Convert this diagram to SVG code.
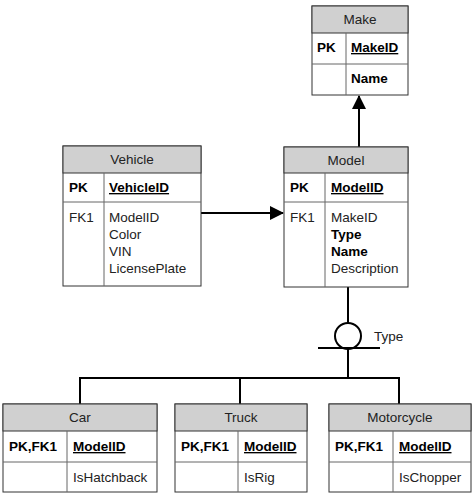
<svg xmlns="http://www.w3.org/2000/svg" width="474" height="495" viewBox="0 0 474 495">
<style>
text{font-family:"Liberation Sans",Arial,sans-serif;font-size:13.5px;fill:#222}
.b{font-weight:bold;fill:#000}
.u{text-decoration:underline}
.h{fill:#d0d0d0;stroke:#333;stroke-width:1}
.bx{fill:#fff;stroke:#333;stroke-width:1}
.ln{stroke:#666;stroke-width:1;fill:none}
.c{stroke:#000;stroke-width:2;fill:none}
</style>
<defs><marker id="m" markerWidth="14" markerHeight="14" refX="13" refY="7" orient="auto" markerUnits="userSpaceOnUse"><path d="M0,0L14,7L0,14Z" fill="#000"/></marker></defs>
<rect width="474" height="495" fill="#fff"/>
<g id="connectors">
<line class="c" x1="359" y1="147" x2="359" y2="96" marker-end="url(#m)"/>
<line class="c" x1="201" y1="213" x2="283" y2="213" marker-end="url(#m)"/>
<line class="c" x1="348" y1="287" x2="348" y2="323"/>
<circle cx="348" cy="336" r="13" fill="#fff" stroke="#000" stroke-width="2"/>
<line class="c" x1="318" y1="348" x2="380" y2="348"/>
<line class="c" x1="348" y1="349" x2="348" y2="378"/>
<polyline class="c" points="80,404 80,378 399,378 399,404"/>
<line class="c" x1="240" y1="378" x2="240" y2="404"/>
<text x="374" y="341">Type</text>
</g>
<g id="Make">
<rect class="bx" x="312" y="6" width="96" height="89"/>
<rect class="h" x="312" y="6" width="96" height="27"/>
<line class="ln" x1="312" y1="64" x2="408" y2="64"/><line class="ln" x1="346" y1="33" x2="346" y2="95"/>
<text x="360" y="24" text-anchor="middle">Make</text>
<text class="b" x="317" y="52">PK</text><text class="b u" x="351" y="52">MakeID</text>
<text class="b" x="351" y="83">Name</text>
</g>
<g id="Model">
<rect class="bx" x="284" y="147" width="124" height="140"/>
<rect class="h" x="284" y="147" width="124" height="26"/>
<line class="ln" x1="284" y1="202" x2="408" y2="202"/><line class="ln" x1="325" y1="173" x2="325" y2="287"/>
<text x="346" y="165" text-anchor="middle">Model</text>
<text class="b" x="290" y="192">PK</text><text class="b u" x="331" y="192">ModelID</text>
<text x="290" y="222">FK1</text>
<text x="331" y="222">MakeID</text><text class="b" x="331" y="239">Type</text><text class="b" x="331" y="256">Name</text><text x="331" y="273">Description</text>
</g>
<g id="Vehicle">
<rect class="bx" x="63" y="146" width="138" height="140"/>
<rect class="h" x="63" y="146" width="138" height="27"/>
<line class="ln" x1="63" y1="202" x2="201" y2="202"/><line class="ln" x1="104" y1="173" x2="104" y2="286"/>
<text x="132" y="164" text-anchor="middle">Vehicle</text>
<text class="b" x="69" y="192">PK</text><text class="b u" x="109" y="192">VehicleID</text>
<text x="69" y="222">FK1</text>
<text x="109" y="222">ModelID</text><text x="109" y="239">Color</text><text x="109" y="256">VIN</text><text x="109" y="273">LicensePlate</text>
</g>
<g id="Car">
<rect class="bx" x="3" y="404" width="154" height="88"/>
<rect class="h" x="3" y="404" width="154" height="27"/>
<line class="ln" x1="3" y1="462" x2="157" y2="462"/><line class="ln" x1="67" y1="431" x2="67" y2="492"/>
<text x="80" y="422" text-anchor="middle">Car</text>
<text class="b" x="9" y="451">PK,FK1</text><text class="b u" x="73" y="451">ModelID</text>
<text x="73" y="482">IsHatchback</text>
</g>
<g id="Truck">
<rect class="bx" x="175" y="404" width="132" height="88"/>
<rect class="h" x="175" y="404" width="132" height="27"/>
<line class="ln" x1="175" y1="462" x2="307" y2="462"/><line class="ln" x1="238" y1="431" x2="238" y2="492"/>
<text x="241" y="422" text-anchor="middle">Truck</text>
<text class="b" x="181" y="451">PK,FK1</text><text class="b u" x="244" y="451">ModelID</text>
<text x="244" y="482">IsRig</text>
</g>
<g id="Motorcycle">
<rect class="bx" x="329" y="404" width="142" height="88"/>
<rect class="h" x="329" y="404" width="142" height="27"/>
<line class="ln" x1="329" y1="462" x2="471" y2="462"/><line class="ln" x1="393" y1="431" x2="393" y2="492"/>
<text x="400" y="422" text-anchor="middle">Motorcycle</text>
<text class="b" x="335" y="451">PK,FK1</text><text class="b u" x="399" y="451">ModelID</text>
<text x="399" y="482">IsChopper</text>
</g>
</svg>
